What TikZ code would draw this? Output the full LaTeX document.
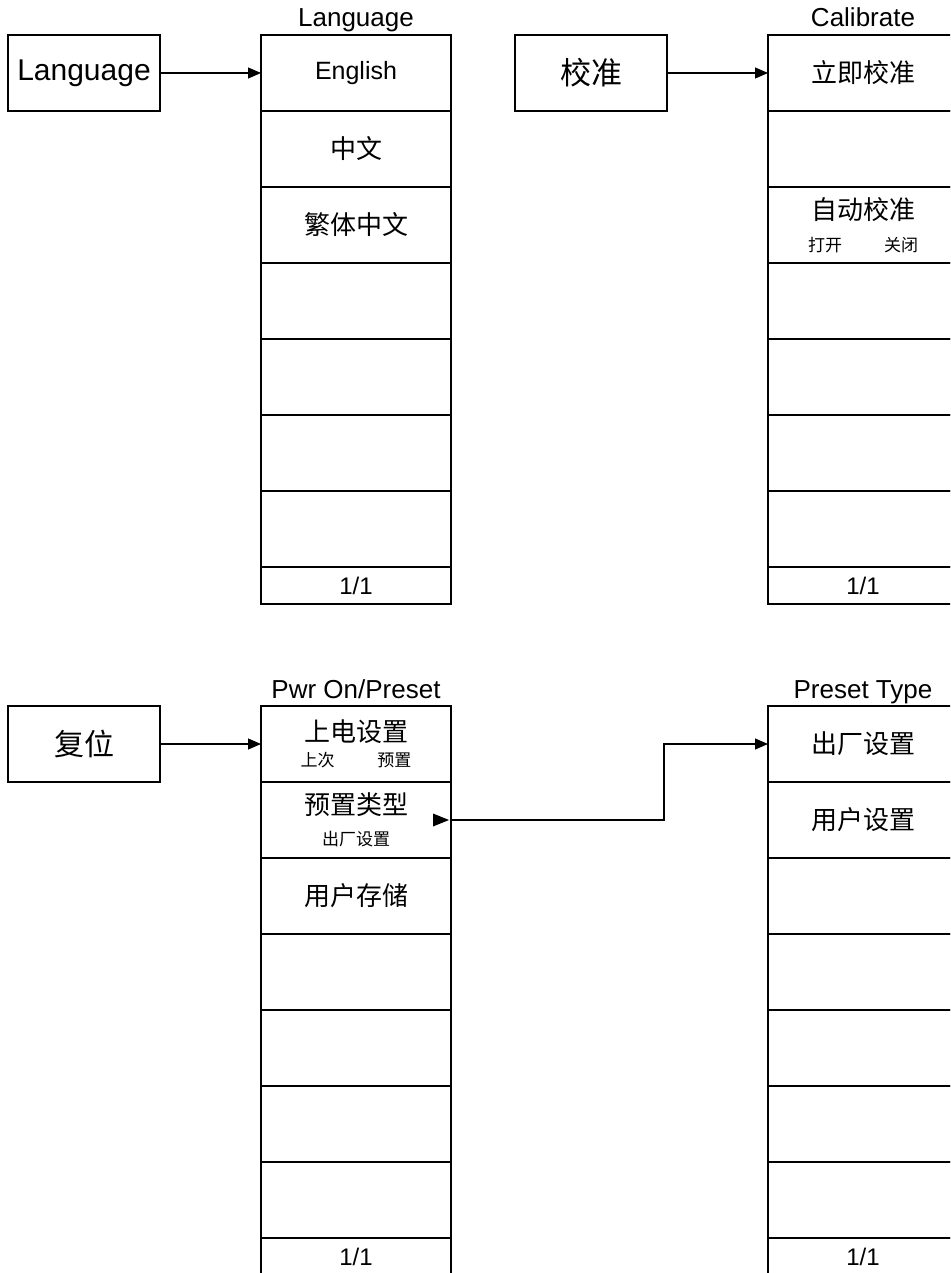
\documentclass[tikz,border=0pt]{standalone}
\usepackage{fontspec}
\setmainfont{Liberation Sans}
\newfontfamily\cjk{Noto Sans CJK SC}
\usetikzlibrary{positioning,arrows.meta}

\begin{document}
\begin{tikzpicture}[x=1pt,y=-1pt,line width=1.1pt,node distance=0pt,
  btn/.style={draw,minimum width=152pt,minimum height=76pt,inner sep=0pt,outer sep=0pt},
  cell/.style={draw,minimum width=190pt,minimum height=76pt,inner sep=0pt,outer sep=0pt,align=center,font=\fontsize{25}{25}\selectfont},
  pagecell/.style={cell,minimum height=37pt,font=\fontsize{24}{24}\selectfont},
  zh/.style={font=\cjk\fontsize{26}{26}\selectfont},
  subtext/.style={font=\fontsize{17}{17}\selectfont},
  title/.style={anchor=base,inner sep=0pt,font=\fontsize{26}{26}\selectfont},
  jump/.style={-{Triangle[length=13pt,width=11pt]}}]
\useasboundingbox (0,0) rectangle (950,1273);
\clip (0,0) rectangle (950,1273);

% Language
\node[btn,font=\fontsize{30}{30}\selectfont] (langkey) at (84,73) {Language};
\node[cell] (lang1) at (356,73) {English};
\node[cell,below=of lang1,zh] (lang2) {中文};
\node[cell,below=of lang2,zh] (lang3) {繁体中文};
\foreach \i [count=\j from 3] in {4,...,7}
  \node[cell,below=of lang\j] (lang\i) {};
\node[pagecell,below=of lang7] (langpg) {1/1};
\node[title] (langt) at ([yshift=8pt]lang1.north) {Language};
\draw[jump] (langkey) -- (lang1);

% Calibrate
\node[btn,zh,font=\cjk\fontsize{31}{31}\selectfont] (calkey) at (591,73) {校准};
\node[cell,zh] (cal1) at (863,73) {立即校准};
\node[cell,below=of cal1] (cal2) {};
\node[cell,below=of cal2,zh] (cal3) {自动校准\\[6.5pt]{\fontsize{17}{17}\selectfont 打开\hspace{42pt}关闭}};
\foreach \i [count=\j from 3] in {4,...,7}
  \node[cell,below=of cal\j] (cal\i) {};
\node[pagecell,below=of cal7] (calpg) {1/1};
\node[title] (calt) at ([yshift=8pt]cal1.north) {Calibrate};
\draw[jump] (calkey) -- (cal1);

% Pwr On/Preset
\node[btn,zh,font=\cjk\fontsize{30}{30}\selectfont] (pwrkey) at (84,744) {复位};
\node[cell,zh] (pwr1) at (356,744) {上电设置\\[-1.5pt]{\fontsize{17}{17}\selectfont 上次\hspace{43pt}预置}};
\node[cell,below=of pwr1,zh] (pwr2) {预置类型\\[5.5pt]{\fontsize{17}{17}\selectfont 出厂设置}};
\node[cell,below=of pwr2,zh] (pwr3) {用户存储};
\foreach \i [count=\j from 3] in {4,...,7}
  \node[cell,below=of pwr\j] (pwr\i) {};
\node[pagecell,below=of pwr7] (pwrpg) {1/1};
\node[title] (pwrt) at ([yshift=8pt]pwr1.north) {Pwr On/Preset};
\draw[jump] (pwrkey) -- (pwr1);

% Preset Type
\node[cell,zh] (pst1) at (863,744) {出厂设置};
\node[cell,below=of pst1,zh] (pst2) {用户设置};
\foreach \i [count=\j from 2] in {3,...,7}
  \node[cell,below=of pst\j] (pst\i) {};
\node[pagecell,below=of pst7] (pstpg) {1/1};
\node[title] (pstt) at ([yshift=8pt]pst1.north) {Preset Type};

\fill ([xshift=-2pt]pwr2.east) -- ++(-16pt,6.5pt) -- ++(0,-13pt) -- cycle;
\coordinate (bend) at (664,820);
\draw[jump] (pwr2.east) -- (bend) |- (pst1.west);
\end{tikzpicture}
\end{document}
